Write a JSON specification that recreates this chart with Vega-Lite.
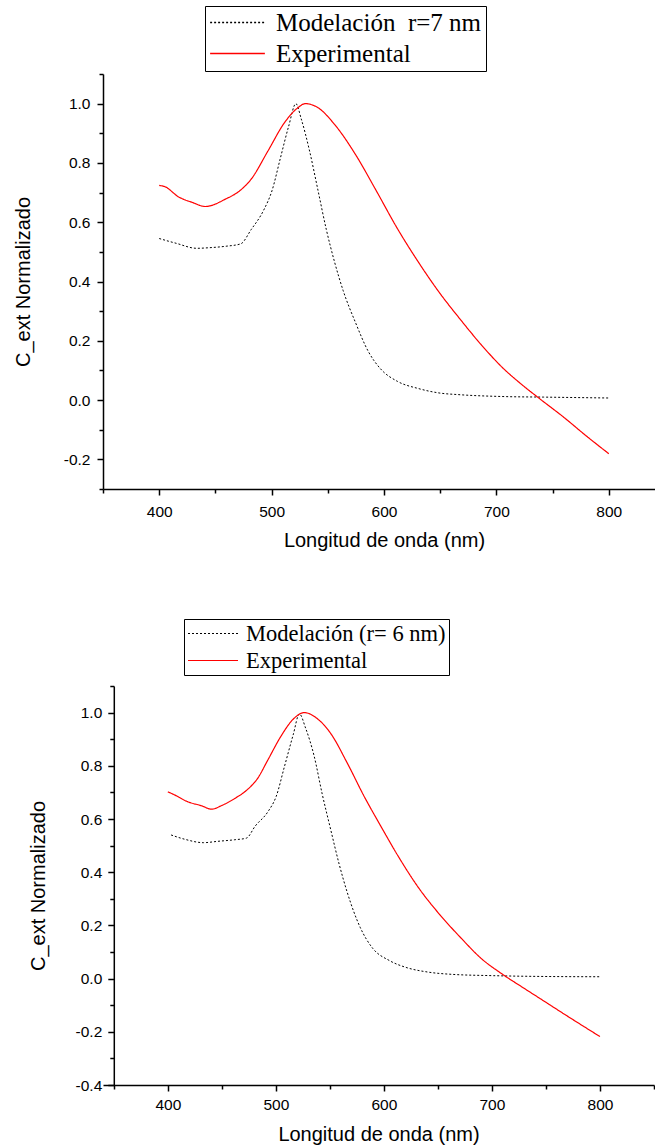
{
  "$schema": "https://vega.github.io/schema/vega-lite/v6.json",
  "padding": {"left": 13, "top": 5, "right": 0, "bottom": 0},
  "background": "white",
  "columns": 1,
  "spacing": 67,
  "config": {"view": {"stroke": null}},
  "resolve": {"scale": {"color": "independent", "strokeDash": "independent"}, "legend": {"color": "independent", "strokeDash": "independent"}},
  "datasets": {
    "top": [
      {"wl": 400, "v": 0.545, "series": "Modelación\u00a0 r=7 nm"},
      {"wl": 415, "v": 0.529, "series": "Modelación\u00a0 r=7 nm"},
      {"wl": 433.5, "v": 0.512, "series": "Modelación\u00a0 r=7 nm"},
      {"wl": 444.6, "v": 0.514, "series": "Modelación\u00a0 r=7 nm"},
      {"wl": 459.5, "v": 0.519, "series": "Modelación\u00a0 r=7 nm"},
      {"wl": 472.5, "v": 0.527, "series": "Modelación\u00a0 r=7 nm"},
      {"wl": 481.8, "v": 0.575, "series": "Modelación\u00a0 r=7 nm"},
      {"wl": 493, "v": 0.641, "series": "Modelación\u00a0 r=7 nm"},
      {"wl": 500.4, "v": 0.707, "series": "Modelación\u00a0 r=7 nm"},
      {"wl": 507.8, "v": 0.816, "series": "Modelación\u00a0 r=7 nm"},
      {"wl": 515.2, "v": 0.924, "series": "Modelación\u00a0 r=7 nm"},
      {"wl": 521.6, "v": 1.0, "series": "Modelación\u00a0 r=7 nm"},
      {"wl": 526.4, "v": 0.948, "series": "Modelación\u00a0 r=7 nm"},
      {"wl": 533.8, "v": 0.84, "series": "Modelación\u00a0 r=7 nm"},
      {"wl": 541.3, "v": 0.707, "series": "Modelación\u00a0 r=7 nm"},
      {"wl": 548.7, "v": 0.575, "series": "Modelación\u00a0 r=7 nm"},
      {"wl": 556, "v": 0.466, "series": "Modelación\u00a0 r=7 nm"},
      {"wl": 563.6, "v": 0.37, "series": "Modelación\u00a0 r=7 nm"},
      {"wl": 574.7, "v": 0.261, "series": "Modelación\u00a0 r=7 nm"},
      {"wl": 585.9, "v": 0.165, "series": "Modelación\u00a0 r=7 nm"},
      {"wl": 597, "v": 0.105, "series": "Modelación\u00a0 r=7 nm"},
      {"wl": 612, "v": 0.063, "series": "Modelación\u00a0 r=7 nm"},
      {"wl": 630.5, "v": 0.039, "series": "Modelación\u00a0 r=7 nm"},
      {"wl": 649, "v": 0.024, "series": "Modelación\u00a0 r=7 nm"},
      {"wl": 667.7, "v": 0.018, "series": "Modelación\u00a0 r=7 nm"},
      {"wl": 705, "v": 0.012, "series": "Modelación\u00a0 r=7 nm"},
      {"wl": 742, "v": 0.01, "series": "Modelación\u00a0 r=7 nm"},
      {"wl": 800, "v": 0.007, "series": "Modelación\u00a0 r=7 nm"},
      {"wl": 400, "v": 0.724, "series": "Experimental"},
      {"wl": 405, "v": 0.72, "series": "Experimental"},
      {"wl": 417, "v": 0.686, "series": "Experimental"},
      {"wl": 430, "v": 0.666, "series": "Experimental"},
      {"wl": 441, "v": 0.653, "series": "Experimental"},
      {"wl": 459.5, "v": 0.679, "series": "Experimental"},
      {"wl": 470.6, "v": 0.703, "series": "Experimental"},
      {"wl": 481.8, "v": 0.745, "series": "Experimental"},
      {"wl": 496.7, "v": 0.84, "series": "Experimental"},
      {"wl": 511.5, "v": 0.936, "series": "Experimental"},
      {"wl": 522.7, "v": 0.984, "series": "Experimental"},
      {"wl": 530, "v": 1.0, "series": "Experimental"},
      {"wl": 541, "v": 0.987, "series": "Experimental"},
      {"wl": 556, "v": 0.93, "series": "Experimental"},
      {"wl": 574.7, "v": 0.828, "series": "Experimental"},
      {"wl": 593, "v": 0.707, "series": "Experimental"},
      {"wl": 612, "v": 0.578, "series": "Experimental"},
      {"wl": 630.5, "v": 0.466, "series": "Experimental"},
      {"wl": 649, "v": 0.364, "series": "Experimental"},
      {"wl": 667.7, "v": 0.273, "series": "Experimental"},
      {"wl": 686, "v": 0.189, "series": "Experimental"},
      {"wl": 705, "v": 0.111, "series": "Experimental"},
      {"wl": 723, "v": 0.051, "series": "Experimental"},
      {"wl": 738, "v": 0.006, "series": "Experimental"},
      {"wl": 760.6, "v": -0.06, "series": "Experimental"},
      {"wl": 779, "v": -0.118, "series": "Experimental"},
      {"wl": 800, "v": -0.181, "series": "Experimental"}
    ],
    "bottom": [
      {"wl": 403, "v": 0.54, "series": "Modelación (r= 6 nm)"},
      {"wl": 415.5, "v": 0.524, "series": "Modelación (r= 6 nm)"},
      {"wl": 433, "v": 0.511, "series": "Modelación (r= 6 nm)"},
      {"wl": 446, "v": 0.516, "series": "Modelación (r= 6 nm)"},
      {"wl": 462, "v": 0.522, "series": "Modelación (r= 6 nm)"},
      {"wl": 472.7, "v": 0.528, "series": "Modelación (r= 6 nm)"},
      {"wl": 481, "v": 0.574, "series": "Modelación (r= 6 nm)"},
      {"wl": 492.6, "v": 0.627, "series": "Modelación (r= 6 nm)"},
      {"wl": 500.4, "v": 0.686, "series": "Modelación (r= 6 nm)"},
      {"wl": 508, "v": 0.798, "series": "Modelación (r= 6 nm)"},
      {"wl": 516, "v": 0.916, "series": "Modelación (r= 6 nm)"},
      {"wl": 521.8, "v": 0.995, "series": "Modelación (r= 6 nm)"},
      {"wl": 527.5, "v": 0.942, "series": "Modelación (r= 6 nm)"},
      {"wl": 535.4, "v": 0.837, "series": "Modelación (r= 6 nm)"},
      {"wl": 543, "v": 0.692, "series": "Modelación (r= 6 nm)"},
      {"wl": 550.7, "v": 0.561, "series": "Modelación (r= 6 nm)"},
      {"wl": 558.6, "v": 0.43, "series": "Modelación (r= 6 nm)"},
      {"wl": 566, "v": 0.325, "series": "Modelación (r= 6 nm)"},
      {"wl": 578, "v": 0.193, "series": "Modelación (r= 6 nm)"},
      {"wl": 589.6, "v": 0.114, "series": "Modelación (r= 6 nm)"},
      {"wl": 605, "v": 0.068, "series": "Modelación (r= 6 nm)"},
      {"wl": 620.5, "v": 0.042, "series": "Modelación (r= 6 nm)"},
      {"wl": 640, "v": 0.025, "series": "Modelación (r= 6 nm)"},
      {"wl": 663, "v": 0.016, "series": "Modelación (r= 6 nm)"},
      {"wl": 701.6, "v": 0.011, "series": "Modelación (r= 6 nm)"},
      {"wl": 748, "v": 0.008, "series": "Modelación (r= 6 nm)"},
      {"wl": 800, "v": 0.007, "series": "Modelación (r= 6 nm)"},
      {"wl": 400, "v": 0.702, "series": "Experimental"},
      {"wl": 404, "v": 0.695, "series": "Experimental"},
      {"wl": 419, "v": 0.664, "series": "Experimental"},
      {"wl": 431, "v": 0.65, "series": "Experimental"},
      {"wl": 440.6, "v": 0.637, "series": "Experimental"},
      {"wl": 450, "v": 0.651, "series": "Experimental"},
      {"wl": 461.9, "v": 0.677, "series": "Experimental"},
      {"wl": 473.5, "v": 0.71, "series": "Experimental"},
      {"wl": 483, "v": 0.752, "series": "Experimental"},
      {"wl": 492.6, "v": 0.822, "series": "Experimental"},
      {"wl": 504.4, "v": 0.909, "series": "Experimental"},
      {"wl": 516, "v": 0.975, "series": "Experimental"},
      {"wl": 526.3, "v": 1.0, "series": "Experimental"},
      {"wl": 539, "v": 0.975, "series": "Experimental"},
      {"wl": 550.7, "v": 0.922, "series": "Experimental"},
      {"wl": 566, "v": 0.811, "series": "Experimental"},
      {"wl": 581.6, "v": 0.686, "series": "Experimental"},
      {"wl": 597, "v": 0.574, "series": "Experimental"},
      {"wl": 612.8, "v": 0.463, "series": "Experimental"},
      {"wl": 632, "v": 0.342, "series": "Experimental"},
      {"wl": 651.6, "v": 0.241, "series": "Experimental"},
      {"wl": 670.8, "v": 0.155, "series": "Experimental"},
      {"wl": 690, "v": 0.076, "series": "Experimental"},
      {"wl": 709.5, "v": 0.017, "series": "Experimental"},
      {"wl": 728.8, "v": -0.034, "series": "Experimental"},
      {"wl": 748, "v": -0.084, "series": "Experimental"},
      {"wl": 767.5, "v": -0.135, "series": "Experimental"},
      {"wl": 800, "v": -0.218, "series": "Experimental"}
    ]
  },
  "concat": [
    {
      "width": 562,
      "height": 415,
      "data": {"name": "top"},
      "resolve": {"axis": {"x": "independent", "y": "independent"}},
      "layer": [
        {
          "transform": [{"filter": "datum.series != 'Experimental'"}],
          "mark": {"type": "line", "strokeWidth": 1, "interpolate": "monotone"},
          "encoding": {
            "x": {"field": "wl", "type": "quantitative", "scale": {"domain": [350, 850], "nice": false, "zero": false},
              "axis": {"orient": "bottom", "values": [400, 500, 600, 700, 800], "title": "Longitud de onda (nm)", "grid": false, "domainColor": "black", "domainWidth": 1.5, "tickColor": "black", "tickWidth": 1.5, "tickSize": 6, "labelFont": "Liberation Sans", "labelFontSize": 15.5, "labelColor": "black", "labelPadding": 9, "labelFlush": false, "titleFont": "Liberation Sans", "titleFontSize": 20, "titleFontWeight": "normal", "titleColor": "black", "titlePadding": 11}},
            "y": {"field": "v", "type": "quantitative", "scale": {"domain": [-0.3, 1.1], "nice": false, "zero": false},
              "axis": {"orient": "left", "values": [-0.2, 0, 0.2, 0.4, 0.6, 0.8, 1.0], "labelExpr": "datum.value < 0 ? '-' + format(-datum.value, '.1f') : format(datum.value, '.1f')", "title": "C_ext Normalizado", "grid": false, "domainColor": "black", "domainWidth": 1.5, "tickColor": "black", "tickWidth": 1.5, "tickSize": 6, "labelFont": "Liberation Sans", "labelFontSize": 15.5, "labelColor": "black", "labelPadding": 7, "labelFlush": false, "titleFont": "Liberation Sans", "titleFontSize": 20, "titleFontWeight": "normal", "titleColor": "black", "titlePadding": 30}},
            "color": {"field": "series", "type": "nominal", "scale": {"domain": ["Modelación\u00a0 r=7 nm", "Experimental"], "range": ["black", "red"]},
              "legend": {"orient": "none", "legendX": 102, "legendY": -68, "title": null, "symbolType": "stroke", "symbolSize": 3000, "symbolStrokeWidth": 1.5, "clipHeight": 25, "labelFont": "Liberation Serif", "labelFontSize": 25, "labelColor": "black", "labelLimit": 500, "labelOffset": 10, "strokeColor": "black", "fillColor": "white", "padding": 4, "rowPadding": 5}},
            "strokeDash": {"field": "series", "type": "nominal", "scale": {"domain": ["Modelación\u00a0 r=7 nm", "Experimental"], "range": [[2, 2], [1, 0]]},
              "legend": {"orient": "none", "legendX": 102, "legendY": -68, "title": null, "symbolType": "stroke", "symbolSize": 3000, "symbolStrokeWidth": 1.5, "clipHeight": 25, "labelFont": "Liberation Serif", "labelFontSize": 25, "labelColor": "black", "labelLimit": 500, "labelOffset": 10, "strokeColor": "black", "fillColor": "white", "padding": 4, "rowPadding": 5}}
          }
        },
        {
          "transform": [{"filter": "datum.series == 'Experimental'"}],
          "mark": {"type": "line", "strokeWidth": 1.2, "interpolate": "monotone"},
          "encoding": {
            "x": {"field": "wl", "type": "quantitative", "axis": {"orient": "bottom", "values": [350, 450, 550, 650, 750, 850], "labels": false, "domain": false, "grid": false, "title": null, "tickColor": "black", "tickWidth": 1.5, "tickSize": 4}},
            "y": {"field": "v", "type": "quantitative", "axis": {"orient": "left", "values": [-0.3, -0.1, 0.1, 0.3, 0.5, 0.7, 0.9, 1.1], "labels": false, "domain": false, "grid": false, "title": null, "tickColor": "black", "tickWidth": 1.5, "tickSize": 4}},
            "color": {"field": "series", "type": "nominal"},
            "strokeDash": {"field": "series", "type": "nominal"}
          }
        }
      ]
    },
    {
      "width": 551,
      "height": 399,
      "data": {"name": "bottom"},
      "resolve": {"axis": {"x": "independent", "y": "independent"}},
      "layer": [
        {
          "transform": [{"filter": "datum.series != 'Experimental'"}],
          "mark": {"type": "line", "strokeWidth": 1, "interpolate": "monotone"},
          "encoding": {
            "x": {"field": "wl", "type": "quantitative", "scale": {"domain": [340, 850], "nice": false, "zero": false},
              "axis": {"orient": "bottom", "values": [400, 500, 600, 700, 800], "title": "Longitud de onda (nm)", "grid": false, "domainColor": "black", "domainWidth": 1.5, "tickColor": "black", "tickWidth": 1.5, "tickSize": 6, "labelFont": "Liberation Sans", "labelFontSize": 15.5, "labelColor": "black", "labelPadding": 6, "labelFlush": false, "titleFont": "Liberation Sans", "titleFontSize": 20, "titleFontWeight": "normal", "titleColor": "black", "titlePadding": 12}},
            "y": {"field": "v", "type": "quantitative", "scale": {"domain": [-0.4, 1.1], "nice": false, "zero": false},
              "axis": {"orient": "left", "offset": -10.8, "values": [-0.4, -0.2, 0, 0.2, 0.4, 0.6, 0.8, 1.0], "labelExpr": "datum.value < 0 ? '-' + format(-datum.value, '.1f') : format(datum.value, '.1f')", "title": "C_ext Normalizado", "grid": false, "domainColor": "black", "domainWidth": 1.5, "tickColor": "black", "tickWidth": 1.5, "tickSize": 6, "labelFont": "Liberation Sans", "labelFontSize": 15.5, "labelColor": "black", "labelPadding": 6, "labelFlush": false, "titleFont": "Liberation Sans", "titleFontSize": 20, "titleFontWeight": "normal", "titleColor": "black", "titlePadding": 27}},
            "color": {"field": "series", "type": "nominal", "scale": {"domain": ["Modelación (r= 6 nm)", "Experimental"], "range": ["black", "red"]},
              "legend": {"orient": "none", "legendX": 81, "legendY": -67, "title": null, "symbolType": "stroke", "symbolSize": 2500, "symbolStrokeWidth": 1.2, "clipHeight": 23, "labelFont": "Liberation Serif", "labelFontSize": 22.5, "labelColor": "black", "labelLimit": 500, "labelOffset": 7, "strokeColor": "black", "fillColor": "white", "padding": 3, "rowPadding": 4}},
            "strokeDash": {"field": "series", "type": "nominal", "scale": {"domain": ["Modelación (r= 6 nm)", "Experimental"], "range": [[2, 2], [1, 0]]},
              "legend": {"orient": "none", "legendX": 81, "legendY": -67, "title": null, "symbolType": "stroke", "symbolSize": 2500, "symbolStrokeWidth": 1.2, "clipHeight": 23, "labelFont": "Liberation Serif", "labelFontSize": 22.5, "labelColor": "black", "labelLimit": 500, "labelOffset": 7, "strokeColor": "black", "fillColor": "white", "padding": 3, "rowPadding": 4}}
          }
        },
        {
          "transform": [{"filter": "datum.series == 'Experimental'"}],
          "mark": {"type": "line", "strokeWidth": 1.2, "interpolate": "monotone"},
          "encoding": {
            "x": {"field": "wl", "type": "quantitative", "axis": {"orient": "bottom", "values": [350, 450, 550, 650, 750, 850], "labels": false, "domain": false, "grid": false, "title": null, "tickColor": "black", "tickWidth": 1.5, "tickSize": 4}},
            "y": {"field": "v", "type": "quantitative", "axis": {"orient": "left", "offset": -10.8, "values": [-0.3, -0.1, 0.1, 0.3, 0.5, 0.7, 0.9, 1.1], "labels": false, "domain": false, "grid": false, "title": null, "tickColor": "black", "tickWidth": 1.5, "tickSize": 4}},
            "color": {"field": "series", "type": "nominal"},
            "strokeDash": {"field": "series", "type": "nominal"}
          }
        }
      ]
    }
  ]
}
